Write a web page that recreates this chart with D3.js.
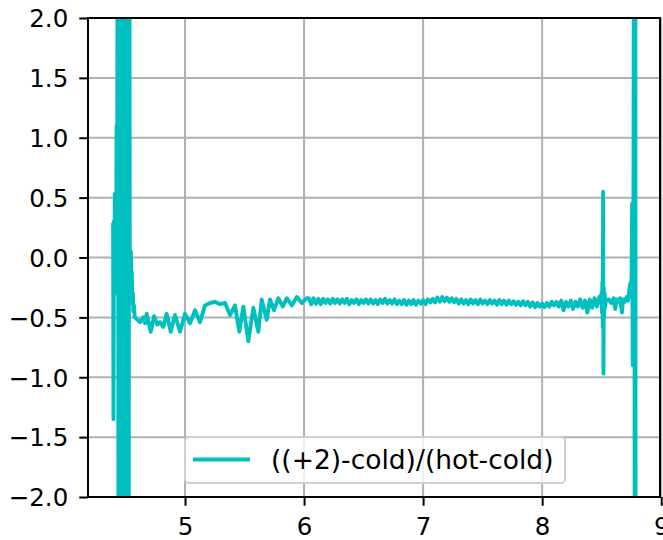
<!DOCTYPE html>
<html>
<head>
<meta charset="utf-8">
<script src="https://cdn.jsdelivr.net/npm/d3@7"></script>
<style>
html,body{margin:0;padding:0;background:#fff;overflow:hidden;}
svg{display:block;font-family:"DejaVu Sans",sans-serif;}
</style>
</head>
<body>
<svg id="chart" width="663" height="540"></svg>
<script>
// ---- data ----
const seriesName = "((+2)-cold)/(hot-cold)";
const xTicks = [5, 6, 7, 8, 9];
const yTicks = [-2.0, -1.5, -1.0, -0.5, 0.0, 0.5, 1.0, 1.5, 2.0];

const wavelength = [
  4.396, 4.399, 4.403, 4.407, 4.410, 4.414, 4.418, 4.421, 4.425, 4.428, 4.431,
  4.436, 4.442, 4.448, 4.454, 4.460, 4.466, 4.472, 4.478, 4.484, 4.490, 4.496,
  4.502, 4.508, 4.514, 4.520, 4.526, 4.531,
  4.536, 4.541, 4.545, 4.549, 4.553, 4.557, 4.562, 4.566, 4.571, 4.578,
  4.622, 4.650, 4.664, 4.678, 4.712, 4.740, 4.767, 4.790, 4.818, 4.846, 4.880,
  4.916, 4.958, 5.000, 5.042, 5.084, 5.126, 5.168, 5.210, 5.252, 5.294, 5.336,
  5.378, 5.420, 5.456, 5.490, 5.532, 5.574, 5.616, 5.644, 5.686, 5.714, 5.748,
  5.784, 5.821, 5.855, 5.897, 5.939, 5.981, 6.023,
  6.04, 6.06, 6.08, 6.10, 6.12, 6.14, 6.16, 6.18, 6.20, 6.22, 6.24, 6.26, 6.28,
  6.30, 6.32, 6.34, 6.36, 6.38, 6.40, 6.42, 6.44, 6.46, 6.48, 6.50, 6.52, 6.54,
  6.56, 6.58, 6.60, 6.62, 6.64, 6.66, 6.68, 6.70, 6.72, 6.74, 6.76, 6.78, 6.80,
  6.82, 6.84, 6.86, 6.88, 6.90, 6.92, 6.94, 6.96, 6.98, 7.00, 7.02, 7.04, 7.06,
  7.08, 7.10, 7.12, 7.14, 7.16, 7.18, 7.20, 7.22, 7.24, 7.26, 7.28, 7.30, 7.32,
  7.34, 7.36, 7.38, 7.40, 7.42, 7.44, 7.46, 7.48, 7.50, 7.52, 7.54, 7.56, 7.58,
  7.60, 7.62, 7.64, 7.66, 7.68, 7.70, 7.72, 7.74, 7.76, 7.78, 7.80, 7.82, 7.84,
  7.86, 7.88, 7.90, 7.92, 7.94, 7.96, 7.98, 8.00, 8.02, 8.04, 8.06, 8.08, 8.10,
  8.12, 8.14, 8.16, 8.18, 8.20, 8.22, 8.24, 8.26, 8.28, 8.30, 8.32, 8.34, 8.36,
  8.38, 8.40, 8.42, 8.44, 8.46, 8.48,
  8.490, 8.497, 8.502, 8.506, 8.509, 8.512, 8.515, 8.518, 8.521, 8.525, 8.529,
  8.535, 8.560, 8.580, 8.600, 8.614, 8.625, 8.640, 8.655, 8.670, 8.680, 8.695,
  8.710, 8.722, 8.735, 8.742, 8.750, 8.756, 8.761, 8.766, 8.774, 8.778, 8.782, 8.786
];

const ratio = [
  0.29, -1.35, 0.30, -0.25, 0.53, -0.30, 0.50, -0.20, 1.10, -0.30, 1.08,
  5.0, -5.0, 5.0, -5.0, 5.0, -5.0, 5.0, -5.0, 5.0, -5.0, 5.0,
  -5.0, 5.0, -5.0, 5.0, -5.0, 5.0,
  0.08, -0.30, 0.05, -0.14, -0.12, -0.38, -0.30, -0.45, -0.40, -0.50,
  -0.54, -0.50, -0.55, -0.47, -0.62, -0.49, -0.56, -0.54, -0.58, -0.47, -0.62,
  -0.48, -0.62, -0.47, -0.55, -0.44, -0.54, -0.40, -0.38, -0.37, -0.39, -0.38,
  -0.48, -0.40, -0.62, -0.41, -0.70, -0.42, -0.62, -0.35, -0.52, -0.35, -0.44,
  -0.34, -0.41, -0.34, -0.40, -0.33, -0.38, -0.34,
  -0.34, -0.39, -0.34, -0.385, -0.345, -0.39, -0.345, -0.38, -0.35, -0.385, -0.345, -0.38, -0.35,
  -0.385, -0.35, -0.38, -0.345, -0.39, -0.355, -0.38, -0.35, -0.39, -0.355, -0.38, -0.35, -0.385,
  -0.35, -0.385, -0.355, -0.39, -0.35, -0.38, -0.345, -0.385, -0.355, -0.385, -0.35, -0.39, -0.36,
  -0.39, -0.355, -0.395, -0.36, -0.39, -0.355, -0.395, -0.36, -0.385, -0.355, -0.39, -0.35, -0.375,
  -0.345, -0.375, -0.335, -0.37, -0.33, -0.365, -0.335, -0.37, -0.34, -0.375, -0.345, -0.385, -0.35,
  -0.385, -0.355, -0.39, -0.35, -0.385, -0.355, -0.39, -0.35, -0.385, -0.36, -0.39, -0.355, -0.385,
  -0.36, -0.395, -0.355, -0.39, -0.36, -0.395, -0.36, -0.39, -0.365, -0.395, -0.37, -0.40, -0.365,
  -0.40, -0.37, -0.41, -0.375, -0.415, -0.38, -0.41, -0.385, -0.415, -0.38, -0.41, -0.37, -0.40,
  -0.37, -0.41, -0.36, -0.44, -0.37, -0.41, -0.36, -0.43, -0.37, -0.41, -0.35, -0.42, -0.36,
  -0.46, -0.35, -0.42, -0.34, -0.41, -0.33,
  -0.37, -0.30, -0.46, -0.20, -0.58, 0.55, -0.97, -0.25, -0.50, -0.30, -0.42,
  -0.36, -0.35, -0.38, -0.34, -0.43, -0.35, -0.37, -0.34, -0.46, -0.35, -0.37,
  -0.33, -0.36, -0.25, -0.21, -0.30, 0.45, -0.90, -0.25, 5.0, -5.0, 5.0, -5.0
];

// ---- layout ----
const svg = d3.select("#chart");
const padL = 88, padR = 660, padT = 18, padB = 497;
const x = d3.scaleLinear().domain([4.185, 8.99]).range([padL, padR]);
const y = d3.scaleLinear().domain([-2, 2]).range([padB, padT]);
const cyan = "#00bfbf";
const fs = 24.5;
const fmtY = d => d3.format(".1f")(d).replace("-", "\u2212");

svg.append("defs").append("clipPath").attr("id", "plotclip")
  .append("rect").attr("x", padL).attr("y", padT)
  .attr("width", padR - padL).attr("height", padB - padT);

// grid
const grid = svg.append("g").attr("stroke", "#b0b0b0").attr("stroke-width", 2);
xTicks.forEach(t => grid.append("line")
  .attr("x1", x(t)).attr("x2", x(t)).attr("y1", padT).attr("y2", padB));
yTicks.forEach(t => grid.append("line")
  .attr("x1", padL).attr("x2", padR).attr("y1", y(t)).attr("y2", y(t)));

// line
const pts = wavelength.map((w, i) => [w, ratio[i]]);
svg.append("path")
  .datum(pts)
  .attr("clip-path", "url(#plotclip)")
  .attr("fill", "none")
  .attr("stroke", cyan)
  .attr("stroke-width", 3.9)
  .attr("stroke-linejoin", "round")
  .attr("stroke-linecap", "butt")
  .attr("d", d3.line().x(d => x(d[0])).y(d => y(d[1])));

// axes
const xAxis = d3.axisBottom(x).tickValues(xTicks).tickSize(8.75).tickPadding(12)
  .tickFormat(d3.format("d"));
const yAxis = d3.axisLeft(y).tickValues(yTicks).tickSize(8.75).tickPadding(11)
  .tickFormat(fmtY);

const gx = svg.append("g").attr("transform", `translate(0,${padB})`).call(xAxis);
const gy = svg.append("g").attr("transform", `translate(${padL},0)`).call(yAxis);
[gx, gy].forEach(g => {
  g.attr("font-size", fs).attr("font-family", "DejaVu Sans");
  g.select(".domain").remove();
  g.selectAll(".tick line").attr("stroke", "#000").attr("stroke-width", 2);
  g.selectAll(".tick text").attr("fill", "#000");
});
gy.selectAll(".tick text").attr("dy", "0.36em");

// spines
svg.append("rect").attr("x", padL).attr("y", padT)
  .attr("width", padR - padL).attr("height", padB - padT)
  .attr("fill", "none").attr("stroke", "#000").attr("stroke-width", 2);

// legend
const lg = svg.append("g");
lg.append("rect").attr("x", 185).attr("y", 437).attr("width", 380).attr("height", 46)
  .attr("rx", 4).attr("fill", "#fff").attr("fill-opacity", 0.8)
  .attr("stroke", "#d0d0d0").attr("stroke-width", 2);
lg.append("line").attr("x1", 193).attr("x2", 250).attr("y1", 459.5).attr("y2", 459.5)
  .attr("stroke", cyan).attr("stroke-width", 3.9);
lg.append("text").attr("x", 271).attr("y", 469)
  .attr("font-family", "DejaVu Sans").attr("font-size", 26.5).attr("fill", "#000")
  .text(seriesName);
</script>
</body>
</html>
